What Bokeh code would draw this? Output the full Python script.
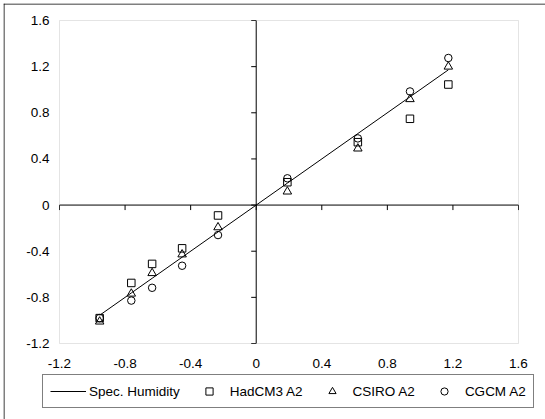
import math
from bokeh.plotting import figure
from bokeh.models import LinearAxis, FixedTicker, Legend, LegendItem, Range1d, BoxAnnotation, Span
from bokeh.embed import file_html
from bokeh.resources import INLINE

# ---- data ----
spec_humidity_x = [-0.955, -0.762, -0.635, -0.452, -0.233, 0.19, 0.62, 0.938, 1.172]
spec_humidity_y = [-0.955, -0.762, -0.635, -0.452, -0.233, 0.19, 0.62, 0.938, 1.172]
hadcm3_a2 = [-0.98, -0.675, -0.51, -0.375, -0.09, 0.198, 0.545, 0.748, 1.045]
csiro_a2 = [-1.01, -0.768, -0.59, -0.428, -0.193, 0.117, 0.49, 0.918, 1.2]
cgcm_a2 = [-0.98, -0.828, -0.717, -0.526, -0.26, 0.232, 0.578, 0.985, 1.275]

ticks = [-1.2, -0.8, -0.4, 0, 0.4, 0.8, 1.2, 1.6]
tick_labels = ["-1.2", "-0.8", "-0.4", "0", "0.4", "0.8", "1.2", "1.6"]

FONT = "Liberation Sans"
FS = "13.5px"

# geometry (pixels): the frame covers the whole chart from (3,3);
# the data box -1.2..1.6 spans x 59..518 and y 20..343
PX_X = 459 / 2.8
PX_Y = 323 / 2.8
x_rng = Range1d(ticks[0] - 56 / PX_X, ticks[-1] + 27 / PX_X)
y_rng = Range1d(ticks[0] - 76 / PX_Y, ticks[-1] + 17 / PX_Y)

p = figure(width=545, height=419, x_range=x_rng, y_range=y_rng,
           x_axis_location=None, y_axis_location=None,
           output_backend="svg", toolbar_location=None,
           min_border_left=3, min_border_right=0,
           min_border_top=3, min_border_bottom=0,
           background_fill_color="white", border_fill_color="white",
           outline_line_color=None)
p.grid.grid_line_color = None

# outer chart border (left and top edges)
p.add_layout(Span(location=x_rng.start + 0.5 / PX_X, dimension="height",
                  line_color="black", line_width=1))
p.add_layout(Span(location=y_rng.end - 0.5 / PX_Y, dimension="width",
                  line_color="black", line_width=1))

overrides = dict(zip(ticks, tick_labels))

def label_axis(standoff):
    return LinearAxis(ticker=FixedTicker(ticks=ticks),
                      major_label_overrides=overrides,
                      axis_line_color=None, major_tick_line_color=None,
                      minor_tick_line_color=None,
                      major_tick_in=0, major_tick_out=0,
                      major_label_standoff=standoff,
                      major_label_text_font=FONT,
                      major_label_text_font_size=FS,
                      major_label_text_color="black")

p.add_layout(label_axis(-46), "left")
p.add_layout(label_axis(-61), "below")

# plot-area border
p.add_layout(BoxAnnotation(left=ticks[0], right=ticks[-1], bottom=ticks[0], top=ticks[-1],
                           fill_color=None, line_color="#a6a6a6", line_width=1))

# crossing axes at zero with tick marks
p.segment(x0=[ticks[0]], y0=[0], x1=[ticks[-1]], y1=[0], line_color="black", line_width=1)
p.segment(x0=[0], y0=[ticks[0]], x1=[0], y1=[ticks[-1]], line_color="black", line_width=1)
zeros = [0 for _ in ticks]
p.ray(x=zeros, y=ticks, length=5, length_units="screen", angle=math.pi,
      line_color="black", line_width=1)
p.ray(x=ticks, y=zeros, length=5, length_units="screen", angle=-math.pi / 2,
      line_color="black", line_width=1)

ln = p.line(spec_humidity_x, spec_humidity_y, line_color="black", line_width=1)
sq = p.scatter(spec_humidity_x, hadcm3_a2, marker="square", size=7.5,
               line_color="black", fill_color=None, line_width=1)
tr = p.scatter(spec_humidity_x, csiro_a2, marker="triangle", size=8.5,
               line_color="black", fill_color=None, line_width=1)
ci = p.scatter(spec_humidity_x, cgcm_a2, marker="circle", size=7.5,
               line_color="black", fill_color=None, line_width=1)

legend = Legend(items=[LegendItem(label="Spec. Humidity", renderers=[ln]),
                       LegendItem(label="HadCM3 A2", renderers=[sq]),
                       LegendItem(label="CSIRO A2", renderers=[tr]),
                       LegendItem(label="CGCM A2", renderers=[ci])],
                orientation="horizontal", location=(39, 11),
                glyph_width=36, glyph_height=18, label_height=18,
                label_standoff=3, spacing=11, padding=7, margin=0,
                border_line_color="black", border_line_width=1,
                background_fill_color="white", background_fill_alpha=1,
                label_text_font=FONT, label_text_font_size=FS,
                label_text_color="black")
p.add_layout(legend, "center")

open("out.html", "w").write(file_html(p, INLINE))
